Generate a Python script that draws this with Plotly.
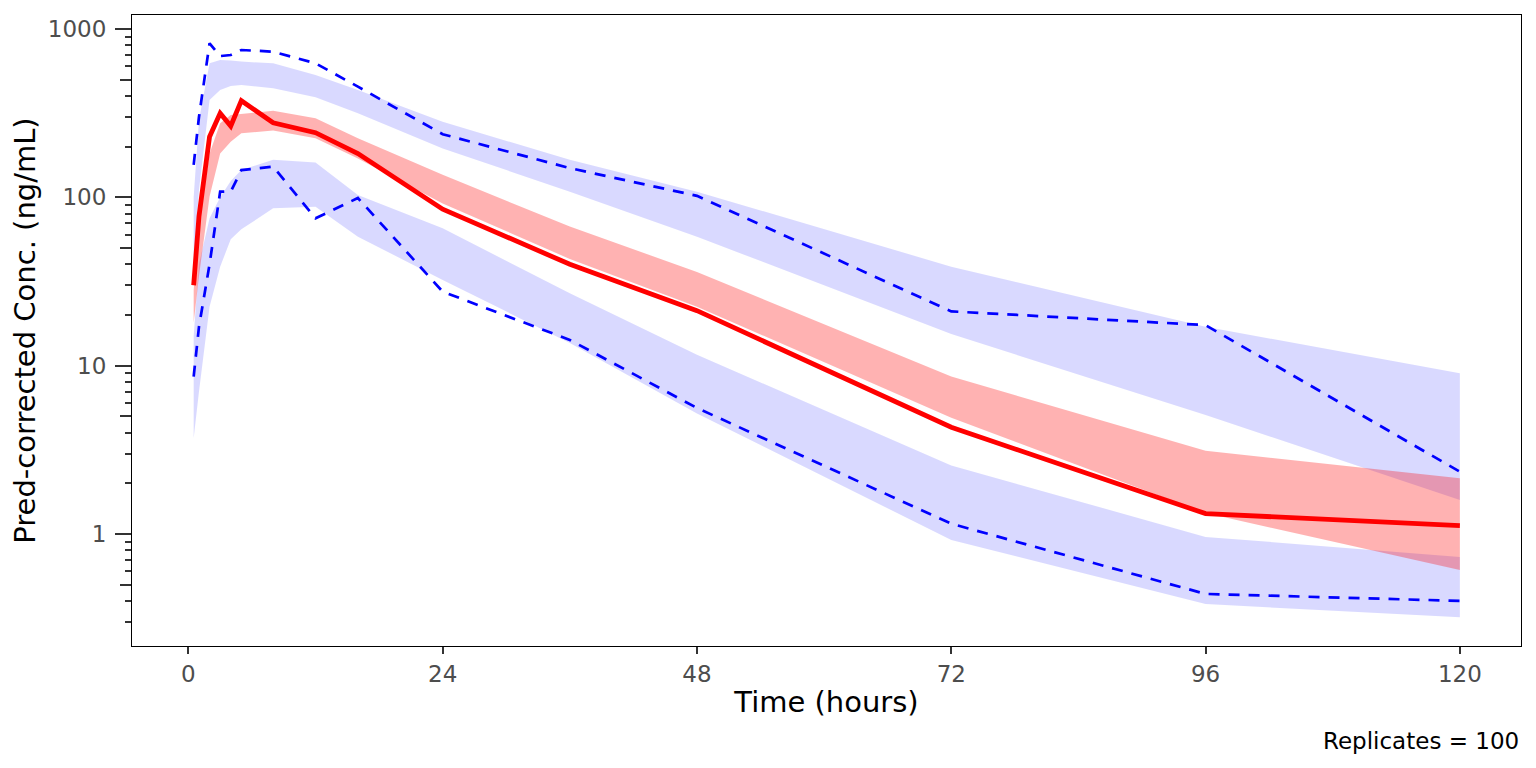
import plotly.graph_objects as go

# sampling times (hours)
times = [0.5, 1, 2, 3, 4, 5, 8, 12, 16, 24, 36, 48, 72, 96, 120]

# observed percentiles (pred-corrected)
obs_median = [30, 77, 229, 316, 265, 375, 277, 242, 182, 85, 40, 21.2, 4.3, 1.32, 1.12]
obs_lower = [8.6, 17, 40, 108, 108, 145, 152, 75, 99, 27.5, 14.2, 5.6, 1.15, 0.44, 0.40]
obs_upper = [156, 300, 822, 690, 700, 750, 733, 625, 454, 237, 149, 102, 21, 17.4, 2.34]

# simulated prediction intervals
sim_med_lo = [18, 34, 101, 182, 214, 240, 249, 224, 170, 92, 43, 22.4, 4.9, 1.33, 0.61]
sim_med_hi = [28, 70, 182, 275, 308, 312, 327, 295, 224, 136, 67, 36, 8.6, 3.12, 2.14]
sim_lo_lo = [3.7, 7, 22.4, 38.7, 56.3, 64.5, 86, 88, 58.3, 32.3, 13.6, 5.2, 0.92, 0.383, 0.32]
sim_lo_hi = [15, 40, 75, 100, 125, 145, 167, 161, 103, 65.4, 26.9, 11.6, 2.55, 0.96, 0.73]
sim_hi_lo = [40, 110, 378, 434, 458, 465, 444, 393, 316, 195, 108, 58.3, 15.4, 5.09, 1.59]
sim_hi_hi = [100, 288, 625, 655, 650, 640, 625, 533, 434, 281, 167, 108, 38.7, 17.0, 9.0]

x_ticks = [0, 24, 48, 72, 96, 120]
y_ticks = [1, 10, 100, 1000]
y_ticklabels = ["1", "10", "100", "1000"]
n_replicates = 100

FONT = "DejaVu Sans"
BLUE_FILL = "rgba(0,0,255,0.15)"
RED_FILL = "rgba(255,0,0,0.3)"
TICK_COLOR = "#333333"


def add_band(fig, lo, hi, color):
    fig.add_trace(go.Scatter(x=times, y=lo, mode="lines", line=dict(width=0),
                             showlegend=False, hoverinfo="skip"))
    fig.add_trace(go.Scatter(x=times, y=hi, mode="lines", line=dict(width=0),
                             fill="tonexty", fillcolor=color,
                             showlegend=False, hoverinfo="skip"))


fig = go.Figure()

# ribbons: blue first, red drawn on top
add_band(fig, sim_hi_lo, sim_hi_hi, BLUE_FILL)
add_band(fig, sim_lo_lo, sim_lo_hi, BLUE_FILL)
add_band(fig, sim_med_lo, sim_med_hi, RED_FILL)

# observed lines
for series in (obs_upper, obs_lower):
    fig.add_trace(go.Scatter(x=times, y=series, mode="lines",
                             line=dict(color="blue", width=2.7, dash="11px,9px"),
                             showlegend=False, hoverinfo="skip"))
fig.add_trace(go.Scatter(x=times, y=obs_median, mode="lines",
                         line=dict(color="red", width=4.8),
                         showlegend=False, hoverinfo="skip"))

# log minor ticks (2-9 per decade, 5 drawn longer on a twin axis)
minor_vals = [d * 10 ** k for k in range(-1, 4) for d in (2, 3, 4, 6, 7, 8, 9)]
mid_vals = [5 * 10 ** k for k in range(-1, 3)]

y_range = [-0.666, 3.083]

# the page adds an 8px body margin, so the figure is 8px smaller each way
fig.update_layout(
    width=1528, height=760,
    paper_bgcolor="white", plot_bgcolor="white",
    margin=dict(l=124, r=15, t=7, b=122),
    font=dict(family=FONT, color="black"),
    xaxis=dict(
        range=[-5.32, 125.77], tickvals=x_ticks,
        ticks="outside", ticklen=7, tickwidth=1.8, tickcolor=TICK_COLOR,
        tickfont=dict(size=23, color="#4d4d4d"),
        showline=True, linecolor="black", linewidth=1.2, mirror=True,
        showgrid=False, zeroline=False,
        title=dict(text="Time (hours)", font=dict(size=29), standoff=5),
    ),
    yaxis=dict(
        type="log", range=y_range, tickvals=y_ticks, ticktext=y_ticklabels,
        ticks="outside", ticklen=16, tickwidth=1.8, tickcolor=TICK_COLOR,
        tickfont=dict(size=23, color="#4d4d4d"), ticklabelstandoff=4,
        minor=dict(tickvals=minor_vals, ticks="outside", ticklen=6,
                   tickwidth=1.8, tickcolor=TICK_COLOR, showgrid=False),
        showline=True, linecolor="black", linewidth=1.2, mirror=True,
        showgrid=False, zeroline=False,
        title=dict(text="Pred-corrected Conc. (ng/mL)", font=dict(size=29), standoff=8),
    ),
    yaxis2=dict(
        type="log", range=y_range, overlaying="y", anchor="x", side="left",
        tickvals=mid_vals, ticks="outside", ticklen=11, tickwidth=1.8,
        tickcolor=TICK_COLOR, showticklabels=False, showline=False,
        showgrid=False, zeroline=False,
    ),
    annotations=[dict(
        text=f"Replicates = {n_replicates}", xref="paper", yref="paper",
        x=1.0, y=-0.1506, xanchor="right", yanchor="middle",
        showarrow=False, font=dict(size=23, color="black"),
    )],
)

# keep the twin axis alive with an invisible copy of the median
fig.add_trace(go.Scatter(x=times, y=obs_median, yaxis="y2", mode="lines",
                         line=dict(width=0), opacity=0,
                         showlegend=False, hoverinfo="skip"))

fig.write_html("out.html")
